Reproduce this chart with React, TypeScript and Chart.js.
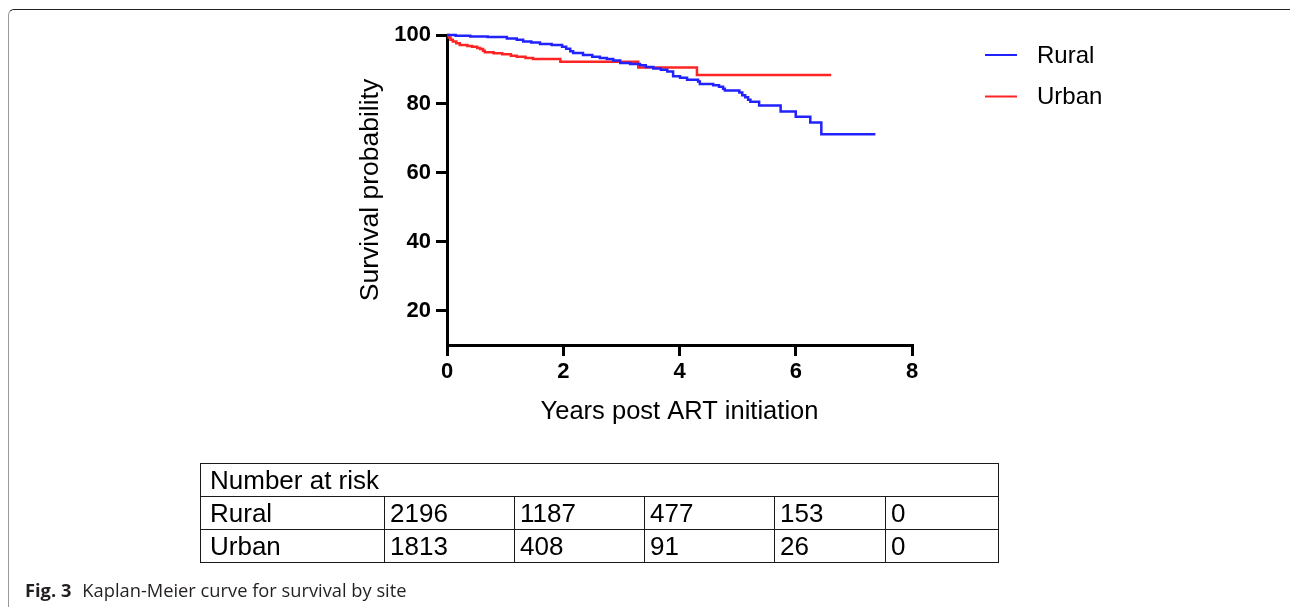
import { useEffect, useRef } from "react";
import { Chart, registerables } from "chart.js";

Chart.register(...registerables);

// ---- Data ----
const seriesNames = ["Rural", "Urban"];
const seriesColors = ["#2222ff", "#ff2424"];

const ruralTimes = [0, 0.15, 0.4, 0.7, 1.03, 1.2, 1.31, 1.45, 1.6, 1.8, 1.98, 2.05, 2.12, 2.17, 2.34, 2.5, 2.63, 2.75, 2.86, 2.98, 3.15, 3.32, 3.42, 3.55, 3.68, 3.79, 3.89, 4.01, 4.13, 4.32, 4.35, 4.58, 4.68, 4.75, 4.78, 5.03, 5.08, 5.13, 5.18, 5.22, 5.37, 5.74, 6.0, 6.25, 6.44, 7.37];
const ruralSurvival = [100, 99.8, 99.6, 99.4, 99.0, 98.6, 98.1, 97.8, 97.4, 97.1, 96.6, 96.0, 95.3, 94.8, 94.2, 93.7, 93.3, 93.0, 92.6, 91.9, 91.6, 91.2, 90.7, 90.3, 89.9, 89.4, 88.0, 87.6, 87.0, 86.5, 85.8, 85.4, 85.0, 84.4, 83.9, 83.3, 82.5, 81.9, 81.2, 80.6, 79.5, 77.8, 76.3, 74.6, 71.2, 71.2];

const urbanTimes = [0, 0.03, 0.06, 0.1, 0.16, 0.22, 0.35, 0.43, 0.52, 0.57, 0.62, 0.65, 0.8, 0.95, 1.1, 1.2, 1.35, 1.48, 1.95, 3.29, 4.3, 6.61];
const urbanSurvival = [100, 99.3, 98.6, 98.1, 97.6, 97.1, 96.8, 96.6, 96.2, 95.9, 95.4, 95.0, 94.7, 94.4, 94.0, 93.7, 93.3, 93.0, 92.2, 90.6, 88.4, 88.4];

const xTicks = [0, 2, 4, 6, 8];
const yTicks = [20, 40, 60, 80, 100];

const riskHeader = "Number at risk";
const riskRural = [2196, 1187, 477, 153, 0];
const riskUrban = [1813, 408, 91, 26, 0];

const FONT = '"Liberation Sans", Arial, Helvetica, sans-serif';

const legendPlugin = {
  id: "kmLegend",
  afterDraw(chart: any) {
    const ctx = chart.ctx;
    const area = chart.chartArea;
    ctx.save();
    chart.data.datasets.forEach((ds: any, i: number) => {
      const y = 55 + i * 41.5;
      const x0 = area.right + 73;
      ctx.strokeStyle = ds.borderColor;
      ctx.lineWidth = 2;
      ctx.beginPath();
      ctx.moveTo(x0, y);
      ctx.lineTo(x0 + 32, y);
      ctx.stroke();
      ctx.fillStyle = "#000";
      ctx.font = `24px ${FONT}`;
      ctx.textBaseline = "middle";
      ctx.textAlign = "left";
      ctx.fillText(ds.label, x0 + 52, y + 1);
    });
    ctx.restore();
  },
};

function KMChart() {
  const ref = useRef<HTMLCanvasElement | null>(null);
  useEffect(() => {
    if (!ref.current) return;
    const chart = new Chart(ref.current, {
      type: "line",
      data: {
        datasets: [
          {
            label: seriesNames[0],
            data: ruralTimes.map((t, i) => ({ x: t, y: ruralSurvival[i] })),
            borderColor: seriesColors[0],
            borderWidth: 2.5,
            pointRadius: 0,
            stepped: true,
            fill: false,
            clip: 4,
          },
          {
            label: seriesNames[1],
            data: urbanTimes.map((t, i) => ({ x: t, y: urbanSurvival[i] })),
            borderColor: seriesColors[1],
            borderWidth: 2.5,
            pointRadius: 0,
            stepped: true,
            fill: false,
            clip: 4,
          },
        ],
      },
      options: {
        animation: false,
        responsive: false,
        devicePixelRatio: 1,
        layout: { padding: { left: 355, right: 381, top: 35, bottom: 180 } },
        plugins: { legend: { display: false }, tooltip: { enabled: false } },
        scales: {
          x: {
            type: "linear",
            min: 0,
            max: 8,
            afterBuildTicks: (s: any) => {
              s.ticks = xTicks.map((v) => ({ value: v }));
            },
            afterFit: (s: any) => {
              s.height = 82;
            },
            grid: { drawOnChartArea: false, drawTicks: true, tickLength: 11, color: "#000", lineWidth: 3 },
            border: { display: true, color: "#000", width: 3 },
            ticks: { color: "#000", font: { family: FONT, size: 22, weight: "bold" }, padding: 3, maxRotation: 0 },
            title: { display: true, text: "Years post ART initiation", color: "#000", font: { family: FONT, size: 25.5 }, padding: 0 },
          },
          y: {
            type: "linear",
            min: 10,
            max: 100,
            afterBuildTicks: (s: any) => {
              s.ticks = yTicks.map((v) => ({ value: v }));
            },
            afterFit: (s: any) => {
              s.width = 92;
            },
            grid: { drawOnChartArea: false, drawTicks: true, tickLength: 11, color: "#000", lineWidth: 3 },
            border: { display: true, color: "#000", width: 3 },
            ticks: { color: "#000", font: { family: FONT, size: 22, weight: "bold" }, padding: 5 },
            title: { display: true, text: "Survival probability", color: "#000", font: { family: FONT, size: 26.5 }, padding: 0 },
          },
        },
      } as any,
      plugins: [legendPlugin],
    });
    return () => chart.destroy();
  }, []);
  return (
    <canvas
      ref={ref}
      width={1293}
      height={607}
      style={{ position: "absolute", left: 0, top: 0, width: 1293, height: 607 }}
    />
  );
}

const cellStyle: any = {
  border: "1px solid #1a1a1a",
  height: 32,
  padding: "0 5px",
  lineHeight: "32px",
  whiteSpace: "nowrap",
  textAlign: "left",
};
const firstCell: any = { ...cellStyle, paddingLeft: 9 };

export default function App() {
  const colWidths = [184, 130, 130, 130, 111, 113];
  return (
    <div
      style={{
        position: "fixed",
        left: 0,
        top: 0,
        width: 1293,
        height: 607,
        background: "#fff",
        overflow: "hidden",
      }}
    >
      <div
        style={{
          position: "absolute",
          left: 8,
          top: 9,
          width: 1282,
          height: 640,
          borderTop: "1.5px solid #222",
          borderLeft: "1.5px solid #999",
          borderTopLeftRadius: 6,
          boxSizing: "border-box",
        }}
      />
      <KMChart />
      <table
        style={{
          position: "absolute",
          left: 200,
          top: 463,
          borderCollapse: "collapse",
          tableLayout: "fixed",
          width: colWidths.reduce((a, b) => a + b, 0),
          fontFamily: FONT,
          fontSize: 26,
          color: "#000",
        }}
      >
        <colgroup>
          {colWidths.map((w, i) => (
            <col key={i} style={{ width: w }} />
          ))}
        </colgroup>
        <tbody>
          <tr>
            <td style={firstCell} colSpan={6}>
              {riskHeader}
            </td>
          </tr>
          <tr>
            <td style={firstCell}>{seriesNames[0]}</td>
            {riskRural.map((v, i) => (
              <td key={i} style={cellStyle}>
                {v}
              </td>
            ))}
          </tr>
          <tr>
            <td style={firstCell}>{seriesNames[1]}</td>
            {riskUrban.map((v, i) => (
              <td key={i} style={cellStyle}>
                {v}
              </td>
            ))}
          </tr>
        </tbody>
      </table>
      <div
        style={{
          position: "absolute",
          left: 25,
          top: 577,
          fontFamily: '"Open Sans", "Noto Sans", sans-serif',
          fontSize: 18.3,
          color: "#231f20",
          whiteSpace: "nowrap",
        }}
      >
        <b>Fig. 3</b>
        <span style={{ marginLeft: 11 }}>Kaplan-Meier curve for survival by site</span>
      </div>
    </div>
  );
}
